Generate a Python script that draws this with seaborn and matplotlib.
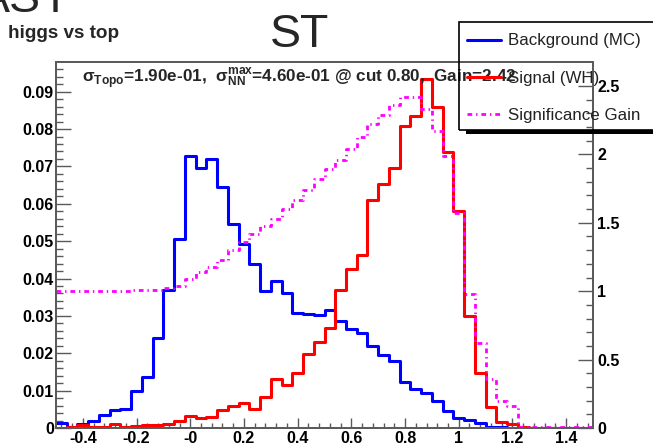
import numpy as np
import pandas as pd
import matplotlib
matplotlib.use("Agg")
import matplotlib.pyplot as plt
import seaborn as sns
from matplotlib.lines import Line2D
from matplotlib.patches import Rectangle
from matplotlib.ticker import FixedLocator, MultipleLocator

# ---------------- data ----------------
x_min, x_max, n_bins = -0.5, 1.5, 50
bin_edges = np.linspace(x_min, x_max, n_bins + 1)
bin_centers = 0.5 * (bin_edges[:-1] + bin_edges[1:])

background = [0.0014, 0.0003, 0.0012, 0.0020, 0.0034, 0.0047, 0.0050, 0.0100, 0.0137, 0.0242,
              0.0370, 0.0505, 0.0728, 0.0695, 0.0719, 0.0644, 0.0546, 0.0492, 0.0438, 0.0367,
              0.0393, 0.0362, 0.0308, 0.0306, 0.0302, 0.0316, 0.0286, 0.0264, 0.0254, 0.0220,
              0.0196, 0.0178, 0.0124, 0.0104, 0.0093, 0.0071, 0.0046, 0.0026, 0.0021, 0.0013,
              0.0004, 0.0002, 0.0001, 0.0001, 0.0001, 0.0001, 0.0, 0.0, 0.0, 0.0]

signal = [0.0001, 0.0002, 0.0008, 0.0004, 0.0004, 0.0010, 0.0002, 0.0006, 0.0008, 0.0008,
          0.0010, 0.0019, 0.0031, 0.0028, 0.0030, 0.0047, 0.0060, 0.0067, 0.0052, 0.0083,
          0.0130, 0.0114, 0.0146, 0.0197, 0.0230, 0.0267, 0.0369, 0.0425, 0.0464, 0.0611,
          0.0654, 0.0696, 0.0808, 0.0836, 0.0933, 0.0860, 0.0738, 0.0580, 0.0300, 0.0148,
          0.0055, 0.0017, 0.0011, 0.0002, 0.0001, 0.0001, 0.0, 0.0, 0.0, 0.0]

gain = [1.00, 1.00, 1.00, 1.00, 1.00, 1.00, 1.00, 1.01, 1.01, 1.01,
        1.02, 1.04, 1.09, 1.14, 1.18, 1.23, 1.30, 1.36, 1.42, 1.48,
        1.53, 1.60, 1.67, 1.74, 1.82, 1.89, 1.96, 2.04, 2.13, 2.22,
        2.29, 2.36, 2.42, 2.42, 2.33, 2.17, 1.99, 1.57, 0.98, 0.62,
        0.36, 0.20, 0.16, 0.01, 0.01, 0.01, 0.01, 0.01, 0.01, 0.01]

x_ticks = [-0.4, -0.2, 0.0, 0.2, 0.4, 0.6, 0.8, 1.0, 1.2, 1.4]
x_tick_labels = ["-0.4", "-0.2", "-0", "0.2", "0.4", "0.6", "0.8", "1", "1.2", "1.4"]
y_ticks = [0, 0.01, 0.02, 0.03, 0.04, 0.05, 0.06, 0.07, 0.08, 0.09]
y_tick_labels = ["0", "0.01", "0.02", "0.03", "0.04", "0.05", "0.06", "0.07", "0.08", "0.09"]
y2_ticks = [0, 0.5, 1, 1.5, 2, 2.5]
y2_tick_labels = ["0", "0.5", "1", "1.5", "2", "2.5"]

legend_labels = ["Background (MC)", "Signal (WH)", "Significance Gain"]
title = "ST"
subtitle = "higgs vs top"
cut_title = "ASY"
info = (r"σ$_{\mathbf{Topo}}$=1.90e-01,  σ$_{\mathbf{NN}}^{\mathbf{max}}$=4.60e-01"
        r" @ cut 0.80,  Gain=2.42")

# ---------------- style ----------------
sns.set_theme(style="white")
plt.rcParams['font.family'] = ['Liberation Sans', 'DejaVu Sans']
plt.rcParams['axes.unicode_minus'] = False
plt.rcParams['mathtext.fontset'] = 'custom'
plt.rcParams['mathtext.rm'] = 'Liberation Sans'
plt.rcParams['mathtext.bf'] = 'Liberation Sans:bold'
plt.rcParams['mathtext.it'] = 'Liberation Sans:italic'

W, H = 653, 443
fig = plt.figure(figsize=(W / 100, H / 100), dpi=100)
fig.patch.set_facecolor('white')

L, R, T, B = 56, 593, 62, 428
ax = fig.add_axes([L / W, 1 - B / H, (R - L) / W, (B - T) / H])
ax.set_facecolor('white')

df = pd.DataFrame({"x": bin_centers, "bkg": background, "sig": signal, "gain": gain})

BLUE, RED, MAG = "#0000ff", "#ff0000", "#ff00ff"
gain_ls = (0, (1.7, 1.4, 0.5, 1.4))
hist_kw = dict(bins=n_bins, binrange=(x_min, x_max), element="step", fill=False)

sns.histplot(data=df, x="x", weights="bkg", color=BLUE, linewidth=2.2, ax=ax, **hist_kw)
sns.histplot(data=df, x="x", weights="sig", color=RED, linewidth=2.2, ax=ax, **hist_kw)

ax.set_xlim(x_min, x_max)
ax.set_ylim(0, 366 / 3737)
ax.set_xlabel("")
ax.set_ylabel("")

ax2 = ax.twinx()
sns.histplot(data=df, x="x", weights="gain", color=MAG, linewidth=2.0, linestyle=gain_ls,
             ax=ax2, **hist_kw)
ax2.set_ylim(0, 366 / 136.8)
ax2.set_xlim(x_min, x_max)
ax2.set_ylabel("")
ax2.set_xlabel("")

FRAME = "#5a5a5a"
for a in (ax, ax2):
    for s in a.spines.values():
        s.set_color(FRAME)
        s.set_linewidth(1.3)

tick_font = dict(fontsize=11.5, fontweight='bold', color='black')

ax.xaxis.set_major_locator(FixedLocator(x_ticks))
ax.set_xticklabels(x_tick_labels, **tick_font)
ax.xaxis.set_minor_locator(MultipleLocator(0.04))
ax.yaxis.set_major_locator(FixedLocator(y_ticks))
ax.set_yticklabels(y_tick_labels, **tick_font)
ax.yaxis.set_minor_locator(MultipleLocator(0.002))
ax.tick_params(axis='x', which='major', direction='in', length=7.5, width=1, color=FRAME,
               pad=2, top=False, bottom=True)
ax.tick_params(axis='x', which='minor', direction='in', length=3.8, width=1, color=FRAME,
               top=False, bottom=True)
ax.tick_params(axis='y', which='major', direction='in', length=10.5, width=1, color=FRAME,
               pad=1.5, left=True, right=False)
ax.tick_params(axis='y', which='minor', direction='in', length=5, width=1, color=FRAME,
               left=True, right=False)

ax2.yaxis.set_major_locator(FixedLocator(y2_ticks))
ax2.set_yticklabels(y2_tick_labels, **tick_font)
ax2.yaxis.set_minor_locator(MultipleLocator(0.1))
ax2.tick_params(axis='y', which='major', direction='in', length=10.5, width=1, color=FRAME,
                pad=3, right=True, left=False)
ax2.tick_params(axis='y', which='minor', direction='in', length=5, width=1, color=FRAME,
                right=True, left=False)
ax2.tick_params(axis='x', which='both', bottom=False, top=False, labelbottom=False)

# ---------------- texts ----------------
fig.text(300 / W, 1 - 47 / H, title, fontsize=33.5, ha='center', va='baseline')
fig.text(72 / W, 1 - 12 / H, cut_title, fontsize=33.5, ha='right', va='baseline')
fig.text(8 / W, 1 - 38 / H, subtitle, fontsize=13.6, fontweight='bold', ha='left', va='baseline')
fig.text(82 / W, 1 - 83 / H, info, fontsize=12.3, fontweight='bold', ha='left', va='baseline')

# ---------------- legend ----------------
shadow = Rectangle((466 / W, 1 - 134 / H), 300 / W, 4 / H, transform=fig.transFigure,
                   facecolor='black', edgecolor='none', zorder=5)
frame = Rectangle((459 / W, 1 - 130 / H), 300 / W, 108 / H, transform=fig.transFigure,
                  facecolor='none', edgecolor='black', linewidth=1.2, zorder=6)
fig.patches.extend([shadow, frame])

handles = [Line2D([], [], color=BLUE, lw=2.2),
           Line2D([], [], color=RED, lw=2.2),
           Line2D([], [], color=MAG, lw=2.0, linestyle=gain_ls)]
leg = fig.legend(handles, legend_labels, loc='upper left',
                 bbox_to_anchor=(467 / W, 1 - 33.5 / H), frameon=False, borderpad=0,
                 borderaxespad=0, handlelength=2.0, handletextpad=0.4,
                 labelspacing=1.3, prop={'family': 'Liberation Sans', 'size': 12.2})
for t in leg.get_texts():
    t.set_color('#222222')

fig.savefig("out.png", dpi=100)
